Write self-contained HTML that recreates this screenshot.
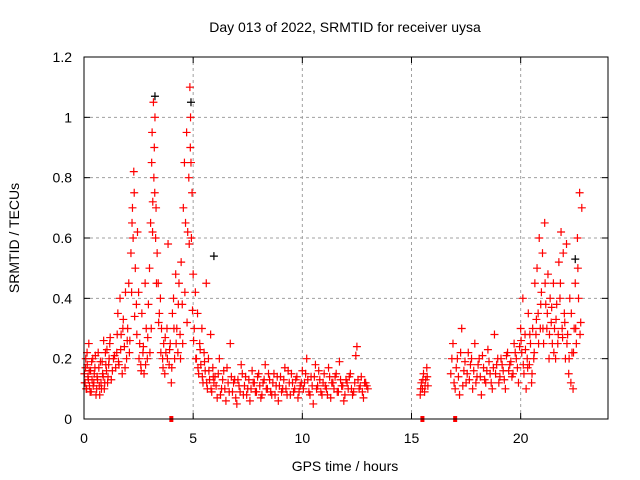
<!DOCTYPE html>
<html><head><meta charset="utf-8"><style>
body{margin:0;background:#fff}
svg{display:block;font-family:"Liberation Sans",sans-serif;font-size:14px}
</style></head><body>
<svg id="chart" width="640" height="480" viewBox="0 0 640 480">
<text x="345" y="32" text-anchor="middle">Day 013 of 2022, SRMTID for receiver uysa</text>
<text x="345" y="471" text-anchor="middle">GPS time / hours</text>
<text x="19" y="238" text-anchor="middle" transform="rotate(-90 19 238)">SRMTID / TECUs</text>
<g id="grid"></g>
<g id="ticks"></g>
<g id="black"></g>
<g id="red"></g>
<g id="gaps"></g>
<rect x="84" y="57" width="524" height="362" fill="none" stroke="#000" stroke-width="1"/>
</svg>
<script>
const xTicks=[0,5,10,15,20];
const yTicks=[0,0.2,0.4,0.6,0.8,1,1.2];
const yTickLabels=["0","0.2","0.4","0.6","0.8","1","1.2"];
const redT=[0.02,0.05,0.08,0.12,0.15,0.18,0.22,0.25,0.3,0.33,0.37,0.4,0.45,0.5,0.55,0.6,0.65,0.7,0.75,0.8,0.85,0.9,0.95,1.0,1.05,1.1,1.15,1.2,1.3,1.4,
1.5,1.55,1.6,1.65,1.7,1.75,1.8,1.85,1.9,1.95,
2.0,2.05,2.1,2.15,2.2,2.22,2.25,2.28,2.3,2.35,2.4,2.45,2.5,
2.55,2.6,2.65,2.7,2.75,2.8,2.85,2.9,2.95,
3.0,3.05,3.1,3.12,3.15,3.18,3.2,3.22,3.25,3.28,3.3,3.35,3.4,3.45,3.5,
3.55,3.6,3.65,3.7,3.75,3.8,3.85,3.9,3.95,
4.0,4.05,4.1,4.15,4.2,4.25,4.3,4.35,4.4,4.45,4.5,
4.55,4.6,4.65,4.7,4.75,4.8,4.85,4.88,4.9,4.92,4.95,5.0,
5.05,5.1,5.15,5.2,5.25,5.3,5.35,5.4,5.45,5.5,5.55,5.6,5.65,5.7,5.75,5.8,5.85,5.9,5.95,
6.0,6.1,6.2,6.3,6.4,6.5,6.6,6.7,6.8,6.9,7.0,7.1,7.2,7.3,7.4,7.5,7.6,7.7,7.8,7.9,8.0,8.1,8.2,8.3,8.4,8.5,8.6,8.7,8.8,8.9,9.0,9.1,9.2,9.3,9.4,9.5,9.6,9.7,9.8,9.9,10.0,10.1,10.2,10.3,10.4,10.5,10.6,10.7,10.8,10.9,11.0,11.1,11.2,11.3,11.4,11.5,11.6,11.7,11.8,11.9,12.0,12.1,12.2,12.3,12.4,12.5,12.6,12.7,12.8,12.9,13.0,
15.4,15.45,15.5,15.55,15.6,15.65,15.7,15.75,
16.8,16.9,17.0,17.1,17.2,17.3,17.4,17.5,17.6,17.7,17.8,17.9,18.0,18.1,18.2,18.3,18.4,18.5,18.6,18.7,18.8,18.9,19.0,19.1,19.2,19.3,19.4,19.5,19.6,19.7,19.8,19.9,20.0,
20.05,20.1,20.15,20.2,20.25,20.3,20.35,20.4,20.45,20.5,20.55,20.6,20.65,20.7,20.75,20.8,20.85,20.9,20.95,
21.0,21.05,21.1,21.15,21.2,21.25,21.3,21.35,21.4,21.45,21.5,21.55,21.6,21.65,21.7,21.75,21.8,21.85,21.9,21.95,
22.0,22.05,22.1,22.15,22.2,22.25,22.3,22.35,22.4,22.45,22.5,22.55,22.6,22.65,22.7,22.75,22.8];
const redV=[0.15,0.12,0.2,0.1,0.18,0.14,0.25,0.11,0.16,0.09,0.13,0.2,0.12,0.17,0.08,0.14,0.22,0.11,0.19,0.1,0.15,0.26,0.12,0.18,0.23,0.14,0.2,0.27,0.16,0.21,
0.22,0.35,0.18,0.4,0.28,0.15,0.33,0.24,0.42,0.2,
0.3,0.45,0.26,0.55,0.65,0.7,0.6,0.82,0.75,0.5,0.38,0.62,0.42,
0.25,0.18,0.35,0.22,0.15,0.45,0.3,0.2,0.38,
0.5,0.65,0.85,0.95,0.72,1.05,0.8,0.9,1.0,0.6,0.7,0.55,0.45,0.35,0.4,
0.3,0.2,0.25,0.15,0.22,0.3,0.58,0.18,0.25,
0.12,0.35,0.4,0.2,0.48,0.3,0.22,0.45,0.28,0.52,0.38,
0.7,0.85,0.65,0.95,0.62,0.8,1.1,1.0,0.85,0.6,0.75,0.48,
0.3,0.42,0.2,0.35,0.15,0.25,0.18,0.3,0.12,0.22,0.16,0.45,0.1,0.2,0.13,0.28,0.09,0.17,0.12,
0.14,0.07,0.2,0.1,0.16,0.06,0.12,0.25,0.09,0.13,0.05,0.11,0.18,0.08,0.14,0.1,0.06,0.16,0.12,0.09,0.15,0.07,0.12,0.18,0.1,0.13,0.08,0.15,0.11,0.06,0.14,0.1,0.17,0.08,0.12,0.15,0.09,0.13,0.07,0.11,0.16,0.12,0.2,0.09,0.14,0.05,0.18,0.11,0.13,0.08,0.15,0.1,0.17,0.07,0.12,0.14,0.09,0.19,0.11,0.06,0.13,0.1,0.15,0.08,0.12,0.24,0.1,0.14,0.07,0.12,0.1,
0.08,0.12,0.1,0.15,0.09,0.13,0.17,0.11,
0.15,0.25,0.1,0.2,0.08,0.3,0.16,0.12,0.22,0.18,0.1,0.25,0.14,0.2,0.08,0.17,0.12,0.23,0.15,0.1,0.28,0.18,0.12,0.2,0.16,0.1,0.22,0.18,0.14,0.25,0.2,0.12,0.3,
0.22,0.4,0.15,0.28,0.1,0.2,0.35,0.18,0.25,0.12,0.3,0.2,0.45,0.28,0.5,0.35,0.6,0.3,0.42,
0.55,0.25,0.65,0.38,0.3,0.48,0.2,0.4,0.32,0.25,0.45,0.3,0.2,0.38,0.25,0.52,0.4,0.62,0.3,0.55,
0.35,0.2,0.58,0.28,0.15,0.4,0.12,0.22,0.1,0.3,0.45,0.25,0.6,0.4,0.75,0.32,0.7];
const redT2=[0.03,0.07,0.1,0.14,0.2,0.24,0.28,0.35,0.42,0.47,0.52,0.58,0.62,0.68,0.72,0.78,0.83,0.88,0.93,0.98,1.03,1.08,1.13,1.18,1.25,1.35,1.45,1.52,1.58,1.68,1.78,1.88,1.98,2.08,2.18,2.32,2.42,2.52,2.62,2.72,2.82,2.92,3.02,3.08,3.14,3.24,3.32,3.42,3.52,3.62,3.72,3.82,3.92,4.02,4.12,4.22,4.32,4.42,4.52,4.62,4.72,4.82,4.87,4.97,5.02,5.12,5.22,5.32,5.42,5.52,5.62,5.72,5.82,5.92,
6.05,6.15,6.25,6.35,6.45,6.55,6.65,6.75,6.85,6.95,7.05,7.15,7.25,7.35,7.45,7.55,7.65,7.75,7.85,7.95,8.05,8.15,8.25,8.35,8.45,8.55,8.65,8.75,8.85,8.95,9.05,9.15,9.25,9.35,9.45,9.55,9.65,9.75,9.85,9.95,10.05,10.15,10.25,10.35,10.45,10.55,10.65,10.75,10.85,10.95,11.05,11.15,11.25,11.35,11.45,11.55,11.65,11.75,11.85,11.95,12.05,12.15,12.25,12.35,12.45,12.55,12.65,12.75,12.85,12.95,
15.42,15.52,15.62,15.72,
16.85,16.95,17.05,17.15,17.25,17.35,17.45,17.55,17.65,17.75,17.85,17.95,18.05,18.15,18.25,18.35,18.45,18.55,18.65,18.75,18.85,18.95,19.05,19.15,19.25,19.35,19.45,19.55,19.65,19.75,19.85,19.95,
20.02,20.12,20.22,20.32,20.42,20.52,20.62,20.72,20.82,20.92,21.02,21.12,21.22,21.32,21.42,21.52,21.62,21.72,21.82,21.92,22.02,22.12,22.22,22.32,22.42,22.52,22.62,22.72];
const redV2=[0.12,0.17,0.1,0.22,0.13,0.16,0.09,0.19,0.11,0.15,0.21,0.1,0.13,0.17,0.08,0.12,0.19,0.14,0.1,0.22,0.16,0.12,0.18,0.25,0.13,0.2,0.17,0.28,0.19,0.23,0.3,0.17,0.26,0.22,0.42,0.34,0.28,0.2,0.16,0.24,0.18,0.27,0.22,0.3,0.62,0.75,0.45,0.32,0.22,0.17,0.27,0.2,0.23,0.17,0.3,0.25,0.38,0.2,0.25,0.42,0.32,0.58,0.9,0.36,0.26,0.2,0.17,0.23,0.14,0.19,0.12,0.16,0.1,0.14,
0.11,0.15,0.08,0.13,0.1,0.17,0.09,0.14,0.12,0.07,0.13,0.09,0.15,0.11,0.08,0.13,0.1,0.12,0.09,0.14,0.11,0.08,0.13,0.1,0.15,0.09,0.12,0.08,0.14,0.11,0.09,0.13,0.1,0.16,0.08,0.12,0.1,0.14,0.09,0.12,0.1,0.15,0.13,0.08,0.11,0.14,0.1,0.16,0.09,0.12,0.11,0.08,0.14,0.12,0.1,0.15,0.09,0.13,0.11,0.08,0.12,0.14,0.1,0.09,0.21,0.13,0.11,0.09,0.12,0.11,
0.1,0.13,0.11,0.14,
0.2,0.12,0.17,0.14,0.22,0.11,0.19,0.15,0.13,0.2,0.16,0.12,0.18,0.14,0.21,0.13,0.16,0.19,0.12,0.17,0.15,0.2,0.14,0.18,0.13,0.21,0.16,0.19,0.15,0.22,0.17,0.24,
0.26,0.18,0.23,0.17,0.28,0.15,0.22,0.33,0.25,0.38,0.3,0.45,0.35,0.28,0.37,0.22,0.33,0.28,0.45,0.27,0.32,0.25,0.2,0.35,0.22,0.3,0.5,0.28];
const blackT=[3.25,4.9,5.95,22.5];
const blackV=[1.07,1.05,0.54,0.53];
const gapT=[4.0,15.5,17.0];

const svg=document.getElementById('chart');
const NS='http://www.w3.org/2000/svg';
const X0=84,X1=608,Y0=419,Y1=57;
function xs(t){return X0+(X1-X0)*t/24;}
function ys(v){return Y0-(Y0-Y1)*v/1.2;}
function mk(tag,attrs,parent){const e=document.createElementNS(NS,tag);for(const k in attrs)e.setAttribute(k,attrs[k]);parent.appendChild(e);return e;}
const grid=document.getElementById('grid'),ticks=document.getElementById('ticks');
xTicks.forEach(function(t){
  const x=xs(t);
  if(t>0){const g=mk('line',{x1:x,x2:x,y1:Y0,y2:Y1,stroke:'#a0a0a0','stroke-dasharray':'3,3'},grid);
  
  }
  mk('line',{x1:x,x2:x,y1:Y0,y2:Y0-6,stroke:'#000'},ticks);
  mk('line',{x1:x,x2:x,y1:Y1,y2:Y1+6,stroke:'#000'},ticks);
  const l=mk('text',{x:x,y:443,'text-anchor':'middle'},ticks);l.textContent=String(t);
  
  
});
yTicks.forEach(function(v,i){
  const y=ys(v);
  if(v>0&&v<1.2){const g=mk('line',{x1:X0,x2:X1,y1:y,y2:y,stroke:'#a0a0a0','stroke-dasharray':'3,3'},grid);
  
  }
  mk('line',{x1:X0,x2:X0+6,y1:y,y2:y,stroke:'#000'},ticks);
  mk('line',{x1:X1,x2:X1-6,y1:y,y2:y,stroke:'#000'},ticks);
  const l=mk('text',{x:72,y:y+5,'text-anchor':'end'},ticks);l.textContent=yTickLabels[i];
  
  
});
function plus(g,t,v,c){const x=xs(t),y=ys(v);
  const p=mk('path',{d:'M'+(x-4)+' '+y+'h8M'+x+' '+(y-4)+'v8',stroke:c,'stroke-width':1.2,fill:'none'},g);
  
  }
const bg=document.getElementById('black'),rg=document.getElementById('red');
blackT.forEach(function(t,i){plus(bg,t,blackV[i],'#000');});
redT.forEach(function(t,i){plus(rg,t,redV[i],'#ff0000');});
redT2.forEach(function(t,i){plus(rg,t,redV2[i],'#ff0000');});
const gg=document.getElementById('gaps');
gapT.forEach(function(t){const r=mk('rect',{x:xs(t)-2,y:Y0-3,width:4,height:6,fill:'#ff0000'},gg);
  
  });
</script>
</body></html>
